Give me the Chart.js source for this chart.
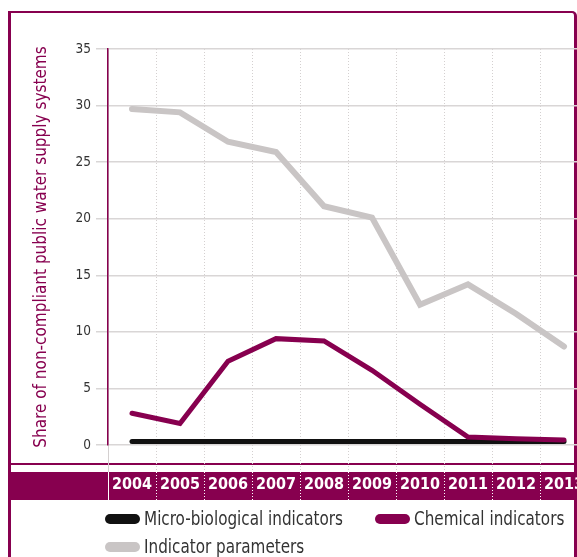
<!DOCTYPE html>
<html>
<head>
<meta charset="utf-8">
<script src="https://cdn.jsdelivr.net/npm/chart.js@4.4.0/dist/chart.umd.min.js"></script>
<style>
  html, body { margin: 0; padding: 0; background: #fff; overflow: hidden; width: 577px; height: 557px; }
  #frame { position: absolute; left: 8px; top: 11px; width: 563px; height: 600px; border: 3px solid #87004f; border-top-width: 2.5px; border-bottom: none; border-top-right-radius: 5px; }
  #rule { position: absolute; left: 11px; right: 0; top: 463px; height: 1.5px; background: #87004f; }
  #band { position: absolute; left: 11px; right: 0; top: 472px; height: 28px; background: #87004f; }
  #chartBox { position: absolute; left: 0; top: 0; }
  .leg { position: absolute; font-family: 'DejaVu Sans Condensed', 'Liberation Sans Narrow', Roboto, sans-serif; font-size: 19px; color: #333; white-space: nowrap; line-height: 20px; }
  .leg i { display: inline-block; width: 35px; height: 10px; border-radius: 5px; vertical-align: middle; margin-right: 4px; position: relative; top: -1px; }
  .leg span { display: inline-block; transform: scaleX(0.89); transform-origin: left center; }
</style>
</head>
<body>
<div id="frame"></div>
<div id="rule"></div>
<div id="band"></div>
<div id="chartBox"><canvas id="waterChart" width="588" height="557"></canvas></div>
<div id="legend"></div>
<script>
const years = ['2004', '2005', '2006', '2007', '2008', '2009', '2010', '2011', '2012', '2013'];
const microBiological = [0.3, 0.3, 0.3, 0.3, 0.3, 0.3, 0.3, 0.3, 0.3, 0.3];
const chemical = [2.8, 1.9, 7.4, 9.4, 9.2, 6.6, 3.6, 0.7, 0.55, 0.45];
const indicatorParams = [29.7, 29.4, 26.8, 25.9, 21.1, 20.1, 12.4, 14.2, 11.6, 8.7];
const yMin = 0, yMax = 35, yStep = 5;

const magenta = '#87004f';
const narrow = "'DejaVu Sans Condensed', 'Liberation Sans Narrow', Roboto, sans-serif";

document.addEventListener('DOMContentLoaded', function () {
    const ctx = document.getElementById('waterChart').getContext('2d');

    // tick marks under the axis: grey above the band, white inside it
    const tickShade = (c) => {
        const sc = c.scale;
        if (!sc || !sc.top) return '#d4d0d0';
        const g = c.chart.ctx.createLinearGradient(0, sc.top, 0, sc.top + 55);
        g.addColorStop(0, '#d4d0d0');
        g.addColorStop(0.49, '#d4d0d0');
        g.addColorStop(0.49, '#ffffff');
        g.addColorStop(1, '#ffffff');
        return g;
    };

    const chart = new Chart(ctx, {
        type: 'line',
        data: {
            labels: years,
            datasets: [{
                label: 'Micro-biological indicators',
                data: microBiological,
                borderColor: '#111111',
                backgroundColor: '#111111',
                borderWidth: 5,
                order: 1
            }, {
                label: 'Chemical indicators',
                data: chemical,
                borderColor: magenta,
                backgroundColor: magenta,
                borderWidth: 5,
                order: 0
            }, {
                label: 'Indicator parameters',
                data: indicatorParams,
                borderColor: '#c9c5c5',
                backgroundColor: '#c9c5c5',
                borderWidth: 6,
                order: 2
            }]
        },
        options: {
            responsive: false,
            animation: false,
            layout: { padding: { left: 0, top: 49, right: 0, bottom: 57 } },
            elements: {
                point: { radius: 0, hoverRadius: 0 },
                line: { tension: 0, borderCapStyle: 'round', borderJoinStyle: 'miter', fill: false }
            },
            plugins: { legend: { display: false }, tooltip: { enabled: false } },
            scales: {
                x: {
                    offset: true,
                    grid: {
                        offset: true,
                        color: '#d4d0d0',
                        lineWidth: 1,
                        tickLength: 55,
                        tickColor: tickShade,
                        tickBorderDash: (c) => c.index === 0 ? [] : [1, 2]
                    },
                    border: { display: false, dash: (c) => c.index === 0 ? [] : [1, 2] },
                    ticks: {
                        color: '#ffffff', padding: -25, maxRotation: 0, minRotation: 0, autoSkip: false,
                        font: { family: narrow, size: 16, weight: 'bold' }
                    },
                    afterFit: (s) => { s.height = 55; }
                },
                y: {
                    min: yMin,
                    max: yMax,
                    ticks: { stepSize: yStep, color: '#333', padding: 5, font: { family: narrow, size: 13.5 } },
                    grid: { color: '#d9d6d6', lineWidth: 1.5, tickLength: 12, tickColor: '#d9d6d6' },
                    border: { color: magenta, width: 1.5 },
                    title: {
                        display: true,
                        text: 'Share of non-compliant public water supply systems',
                        color: magenta,
                        font: { family: narrow, size: 17 },
                        padding: { top: 31.5, bottom: 0 }
                    },
                    afterFit: (s) => { s.width = 108; }
                }
            }
        }
    });

    // legend in html, built from the datasets
    const legendSpots = [[105, 508], [375, 508], [105, 536]];
    const legendBox = document.getElementById('legend');
    chart.data.datasets.forEach((ds, idx) => {
        const item = document.createElement('div');
        item.className = 'leg';
        item.style.left = legendSpots[idx][0] + 'px';
        item.style.top = legendSpots[idx][1] + 'px';
        item.innerHTML = '<i style="background:' + ds.borderColor + '"></i><span>' + ds.label + '</span>';
        legendBox.appendChild(item);
    });
});
</script>
</body>
</html>
